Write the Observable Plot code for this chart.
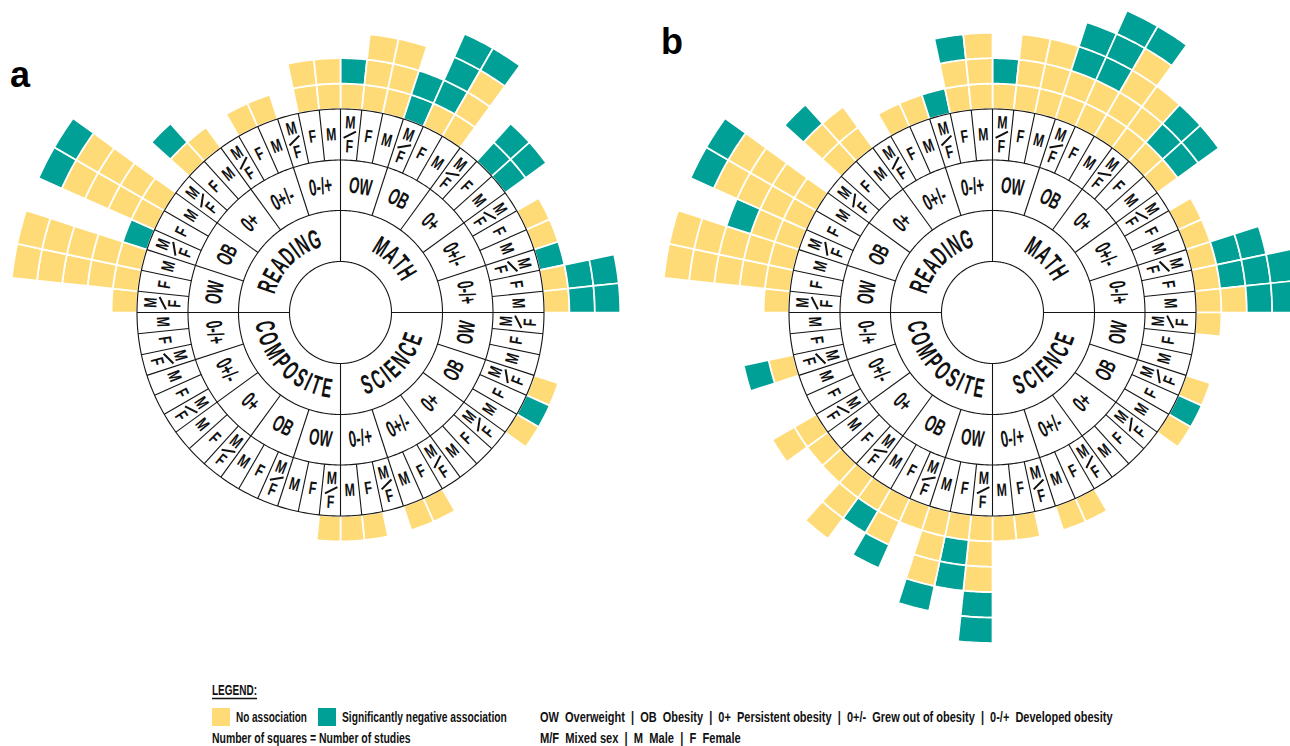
<!DOCTYPE html>
<html><head><meta charset="utf-8">
<script src="https://cdn.jsdelivr.net/npm/d3@7"></script>
<script src="https://cdn.jsdelivr.net/npm/@observablehq/plot@0.6"></script>
<style>
body{margin:0;background:#fff;}
#wrap{position:relative;width:1290px;height:746px;overflow:hidden;}
.panel{position:absolute;font-family:"Liberation Sans",Arial,sans-serif;font-weight:bold;font-size:36px;line-height:1;color:#000;}
#legend{position:absolute;left:0;top:660px;}
#legend text{font-family:"Liberation Sans",Arial,sans-serif;font-weight:bold;font-size:15px;fill:#111;white-space:pre;}
</style></head><body>
<div id="wrap">
<div id="chart"></div>
<div class="panel" style="left:10px;top:57px">a</div>
<div class="panel" style="left:661px;top:24px">b</div>
<svg id="legend" width="1290" height="86"></svg>
</div>
<script>
// ---------- categories ----------
const subjects = ["MATH", "SCIENCE", "COMPOSITE", "READING"];      // clockwise from 12 o'clock
const obesityCats = ["OW", "OB", "0+", "0+/-", "0-/+"];
const sexCats = ["M/F", "F", "M"];
const assocNames = {Y: "No association", T: "Significantly negative association"};
const assocDomain = ["No association", "Significantly negative association"];
const assocColors = ["#FFDB78", "#00A096"];

// ---------- studies per segment (inner -> outer; Y = no association, T = significantly negative) ----------
// order inside each subject: OW(M/F,F,M), OB(M/F,F,M), 0+(...), 0+/-(...), 0-/+(...)
const aMath      = ["YT","YYY","YYY","TT","YTTT","YYYT","","TT","TT","","Y","Y","T","YTT","YTT"];
const aScience   = ["","","","Y","T","Y","","","","","Y","Y","","Y","Y"];
const aComposite = ["Y","","","","","","","","","","","","","",""];
const aReading   = ["Y","YYYYY","YYYYY","T","YYYYT","YYYYT","","YT","Y","","Y","Y","","YY","YY"];

const bMath      = ["YT","YYY","YYY","YYTT","YYTTT","YYYYT","YYY","YTT","YTT","","Y","Y","YTT","YTTT","YYTT"];
const bScience   = ["Y","","","Y","T","Y","","","","","Y","Y","","Y","Y"];
const bComposite = ["YYYTT","YTT","YYYT","Y","YYT","YT","YYY","Y","Y","YY","","","YT","",""];
const bReading   = ["Y","YYYYY","YYYYY","YYT","YYYYT","YYYYT","","YYT","YY","","Y","Y","T","YYT","YYY"];

const legendAssoc = ["No association", "Significantly negative association"];
const legendStudies = "Number of squares = Number of studies";
const legendObesity = [["OW","Overweight"],["OB","Obesity"],["0+","Persistent obesity"],["0+/-","Grew out of obesity"],["0-/+","Developed obesity"]];
const legendSex = [["M/F","Mixed sex"],["M","Male"],["F","Female"]];

// ---------- layout ----------
const W = 1290, H = 660;
const panels = [
  {cx: 340, cy: 312, studies: [aMath, aScience, aComposite, aReading]},
  {cx: 992, cy: 312, studies: [bMath, bScience, bComposite, bReading]}
];
const R0 = 51, R1 = 102, R2 = 152.5, R3 = 203.5, SQ = 25.4;
const SEG = 6; // degrees per sex segment

const rad = d => d * Math.PI / 180;
const P = (p, r, a) => [p.cx + r * Math.sin(rad(a)), p.cy - r * Math.cos(rad(a))];
const rotFor = a => (a > 90 && a < 270) ? a - 180 : a;

// squares
const squarePts = [];
panels.forEach((p, pi) => p.studies.forEach((list, si) => list.forEach((str, j) => {
  const seg = si * 15 + j, a0 = seg * SEG;
  [...str].forEach((c, k) => {
    const r0 = R3 + k * SQ, r1 = r0 + SQ, id = `${pi}-${seg}-${k}`, assoc = assocNames[c];
    for (let t = 0; t <= 12; t++) { const [x, y] = P(p, r1, a0 + t * SEG / 12); squarePts.push({id, x, y, assoc}); }
    for (let t = 12; t >= 0; t--) { const [x, y] = P(p, r0, a0 + t * SEG / 12); squarePts.push({id, x, y, assoc}); }
  });
})));

// rings
const circlePts = [];
panels.forEach((p, pi) => [R0, R1, R2, R3].forEach((r, ri) => {
  for (let t = 0; t < 360; t++) { const [x, y] = P(p, r, t); circlePts.push({id: `${pi}-${ri}`, x, y}); }
}));

// dividers
const dividers = [];
panels.forEach(p => { for (let s = 0; s < 60; s++) {
  const a = s * SEG, rin = s % 15 === 0 ? R0 : s % 3 === 0 ? R1 : R2;
  const [x1, y1] = P(p, rin, a), [x2, y2] = P(p, R3, a);
  dividers.push({x1, y1, x2, y2});
}});

// sex labels
const sexText = [], slashes = [];
const off = (x, y, rot, u, v) => [x + u * Math.cos(rad(rot)) - v * Math.sin(rad(rot)), y + u * Math.sin(rad(rot)) + v * Math.cos(rad(rot))];
panels.forEach(p => { for (let s = 0; s < 60; s++) {
  const a = s * SEG + SEG / 2, rot = rotFor(a), sex = sexCats[s % 3];
  const [x, y] = P(p, (R2 + R3) / 2, a);
  if (sex === "M/F") {
    const [mx, my] = off(x, y, rot, 0, -12), [fx, fy] = off(x, y, rot, 0, 12);
    sexText.push({x: mx, y: my, rot, t: "M"}, {x: fx, y: fy, rot, t: "F"});
    const [x1, y1] = off(x, y, rot, -6, 3.5), [x2, y2] = off(x, y, rot, 6, -3.5);
    slashes.push({x1, y1, x2, y2});
  } else {
    sexText.push({x, y, rot, t: sex});
  }
}});

// obesity labels
const obText = [];
panels.forEach(p => { for (let g = 0; g < 20; g++) {
  const a = g * 18 + 9, [x, y] = P(p, (R1 + R2) / 2, a);
  obText.push({x, y, rot: rotFor(a), t: obesityCats[g % 5]});
}});

// subject labels (curved, one glyph per datum)
const FS_SUB = 27, SX_SUB = 0.55, TRACK = 1.8, RSUB = 77;
const adv = {A:.722,C:.722,D:.722,E:.667,G:.778,H:.722,I:.278,M:.833,N:.722,O:.778,P:.667,R:.722,S:.667,T:.611};
const subText = [];
panels.forEach(p => subjects.forEach((name, si) => {
  const c = si * 90 + 45, bottom = c > 90 && c < 270;
  const ws = [...name].map(ch => adv[ch] * FS_SUB * SX_SUB + TRACK);
  const total = d3.sum(ws);
  let acc = -total / 2;
  [...name].forEach((ch, i) => {
    const o = acc + ws[i] / 2; acc += ws[i];
    const a = bottom ? c - (o / RSUB) * 180 / Math.PI : c + (o / RSUB) * 180 / Math.PI;
    const [x, y] = P(p, RSUB, a);
    subText.push({x, y, rot: rotFor(a), t: ch});
  });
}));

const FONT = "Liberation Sans, Arial, sans-serif";
const chart = Plot.plot({
  width: W, height: H, margin: 0,
  x: {domain: [0, W], range: [0, W], axis: null},
  y: {domain: [0, H], range: [0, H], axis: null},
  color: {domain: assocDomain, range: assocColors},
  style: {background: "white"},
  marks: [
    Plot.line(squarePts, {x: "x", y: "y", z: "id", fill: "assoc", stroke: "white", strokeWidth: 1.7, curve: "linear-closed"}),
    Plot.line(circlePts, {x: "x", y: "y", z: "id", stroke: "#151515", strokeWidth: 1.1, curve: "linear-closed"}),
    Plot.link(dividers, {x1: "x1", y1: "y1", x2: "x2", y2: "y2", stroke: "#151515", strokeWidth: 1.1}),
    Plot.link(slashes, {x1: "x1", y1: "y1", x2: "x2", y2: "y2", stroke: "#111", strokeWidth: 2}),
    Plot.text(sexText, {x: "x", y: "y", text: "t", rotate: "rot", fontSize: 18, fontWeight: "bold", fontFamily: FONT, fill: "#111"}),
    Plot.text(obText, {x: "x", y: "y", text: "t", rotate: "rot", fontSize: 23, fontWeight: "bold", fontFamily: FONT, fill: "#111"}),
    Plot.text(subText, {x: "x", y: "y", text: "t", rotate: "rot", fontSize: FS_SUB, fontWeight: "bold", fontFamily: FONT, fill: "#111"})
  ]
});
document.getElementById("chart").appendChild(chart);

// condense glyphs horizontally (original typeface is a condensed DIN)
const sxs = [0.68, 0.58, SX_SUB];
chart.querySelectorAll('g[aria-label="text"]').forEach((g, i) => {
  g.querySelectorAll("text").forEach(t => t.setAttribute("transform", t.getAttribute("transform") + ` scale(${sxs[i]},1)`));
});

// ---------- legend ----------
const lg = d3.select("#legend");
const addText = (x, y, s, len) => {
  const t = lg.append("text").attr("transform", `translate(${x},${y})`).text(s);
  const natural = t.node().getComputedTextLength();
  t.attr("transform", `translate(${x},${y}) scale(${len / natural},1)`);
  return t;
};
addText(212, 35, "LEGEND:", 45);
lg.append("line").attr("x1", 212).attr("x2", 257).attr("y1", 38.5).attr("y2", 38.5).attr("stroke", "#111").attr("stroke-width", 1.3);
lg.append("rect").attr("x", 212).attr("y", 48).attr("width", 18).attr("height", 18).attr("fill", assocColors[0]);
addText(236, 62, legendAssoc[0], 71);
lg.append("rect").attr("x", 318).attr("y", 48).attr("width", 18).attr("height", 18).attr("fill", assocColors[1]);
addText(342, 62, legendAssoc[1], 165);
addText(212, 83, legendStudies, 199);
addText(540, 62, legendObesity.map(([k, v]) => `${k}  ${v}`).join("  |  "), 573);
addText(540, 83, legendSex.map(([k, v]) => `${k}  ${v}`).join("  |  "), 201);
</script>
</body></html>
